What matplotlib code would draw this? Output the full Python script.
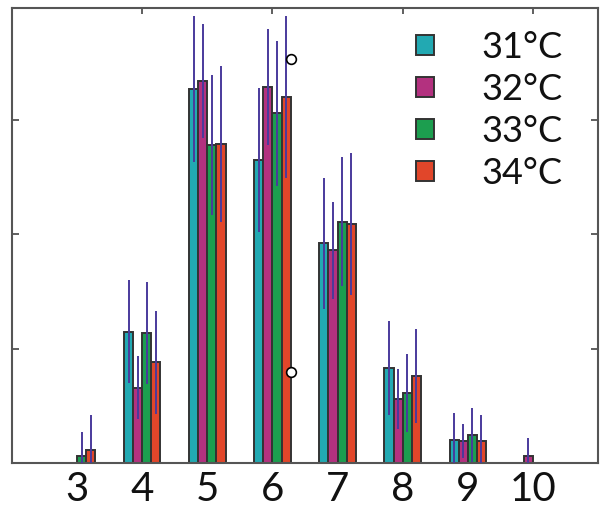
import matplotlib
matplotlib.use("Agg")
import matplotlib.pyplot as plt
import numpy as np

plt.rcParams['font.family'] = ['Lato', 'DejaVu Sans']

# group positions (x axis categories)
groups = [3, 4, 5, 6, 7, 8, 9, 10]
labels = ["31°C", "32°C", "33°C", "34°C"]
colors = ["#22a9b2", "#b3317f", "#1c9e4f", "#e1462a"]

# mean values per temperature
t31 = [0.0, 11.5, 32.7, 26.5, 19.2, 8.3, 2.0, 0.0]
t32 = [0.0, 6.6, 33.4, 32.9, 18.6, 5.6, 1.9, 0.6]
t33 = [0.6, 11.4, 27.8, 30.6, 21.1, 6.15, 2.45, 0.0]
t34 = [1.1, 8.8, 27.9, 32.0, 20.9, 7.6, 1.9, 0.0]

# standard deviations (half length of the vertical lines)
e31 = [0.0, 4.5, 6.4, 6.3, 5.7, 4.1, 2.35, 0.0]
e32 = [0.0, 2.75, 5.0, 5.1, 4.25, 2.65, 1.5, 1.6]
e33 = [2.1, 4.45, 6.15, 6.35, 5.65, 3.4, 2.35, 0.0]
e34 = [3.1, 4.5, 6.85, 7.1, 6.2, 4.1, 2.3, 0.0]

# two outlier circles
out_x = [6.28, 6.28]
out_y = [35.3, 8.0]

means = [t31, t32, t33, t34]
errs = [e31, e32, e33, e34]

fig = plt.figure(figsize=(6, 5.13), dpi=100)
ax = fig.add_axes([0.02, 0.0975, 0.9767, 0.887])

x = np.array(groups, dtype=float)
w = 0.14
offsets = [-1.5 * w, -0.5 * w, 0.5 * w, 1.5 * w]

for m, c, lab, off in zip(means, colors, labels, offsets):
    ax.bar(x + off, m, width=w, color=c, edgecolor="#333333", linewidth=1.4,
           label=lab, zorder=2)
for m, e, off in zip(means, errs, offsets):
    m = np.array(m)
    e = np.array(e)
    mask = e > 0
    ax.vlines((x + off)[mask], np.maximum(m - e, 0)[mask], (m + e)[mask],
              color="#4a3a9c", linewidth=1.4, zorder=3)

ax.plot(out_x, out_y, "o", ms=7, mfc="white", mec="black", mew=1.2, zorder=4,
        clip_on=False)

ax.set_xlim(2, 11)
ax.set_ylim(0, 39.8)
ax.set_xticks(groups)
ax.set_xticklabels([str(g) for g in groups], fontsize=29, color="#111111")
ax.set_yticks([10, 20, 30])
ax.set_yticklabels([])
ax.tick_params(axis="x", length=0, pad=6)
ax.tick_params(axis="y", direction="in", length=5, width=1.2, color="#444444",
               left=True, right=True)

top = ax.secondary_xaxis("top")
top.set_xticks([4, 6, 8, 10])
top.set_xticklabels([])
top.tick_params(direction="in", length=4, width=1.2, color="#444444")
top.spines["top"].set_visible(False)

for s in ax.spines.values():
    s.set_color("#555555")
    s.set_linewidth(1.5)

leg = ax.legend(loc="upper left", bbox_to_anchor=(0.69, 0.95), frameon=False,
                fontsize=26, handlelength=0.5, handleheight=0.5,
                handletextpad=1.3, labelspacing=0.25, borderpad=0,
                borderaxespad=0)
for t in leg.get_texts():
    t.set_color("#111111")

fig.savefig("out.png", dpi=100)
